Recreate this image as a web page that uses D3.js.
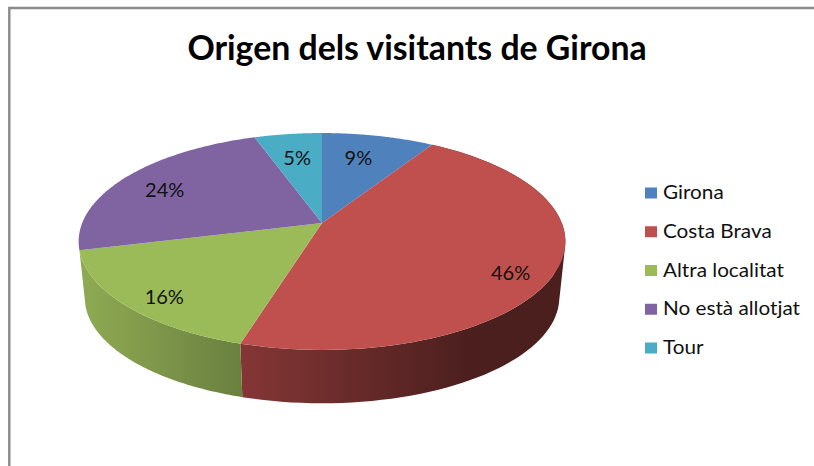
<!DOCTYPE html>
<html><head><meta charset="utf-8">
<script src="https://cdn.jsdelivr.net/npm/d3@7"></script>
<style>html,body{margin:0;padding:0;background:#fff}svg{display:block}text{font-family:Lato,sans-serif;fill:#111}</style>
</head><body><svg id="c" width="814" height="466"></svg>
<script>
const title = "Origen dels visitants de Girona";
const categories = ["Girona","Costa Brava","Altra localitat","No està allotjat","Tour"];
const values = [8.8,45.8,16.4,23.7,5.3];
const colors = ["#4f81bd","#c0504d","#9bbb59","#8064a2","#4bacc6"];
const labelRadius = [0.71,0.85,0.86,0.77,0.70];
const labelTurn = [-2,7,-3,-2.5,0];
const wallShade = {1:["#843635","#4b1f1e"],2:["#8fab53","#6b8040"]};

const svg = d3.select("#c");
const W=814,H=466, cx=322, cy=223, Rx=239.8, Ry=105.3, k=0.1705;
const sx=d3.scaleLinear().domain([-1,1]).range([cx-Rx,cx+Rx]);
const sy=d3.scaleLinear().domain([-1,1]).range([cy+Ry,cy-Ry]);
function proj(a,r,shrink=1,dy=0){
  const x=r*Math.sin(a),y=r*Math.cos(a),w=1+k*y;
  return [cx+(sx(x/w)-cx)*shrink,(sy(y/w)-cy)*shrink+cy+dy];
}
const total=d3.sum(values);
const pie=d3.pie().sort(null).value(d=>d)(values);
const fmt=d=>d3.format(".0f")(d/total*100)+"%";

svg.append("path").attr("d",d3.line()([[W,8],[9.3,8],[9.3,H]])).attr("fill","none").attr("stroke","#8a8a8a").attr("stroke-width",2.4);

const defs=svg.append("defs");
const line=d3.line();
const N=80;
const arcPts=(a0,a1,sh,dy)=>d3.range(0,N+1).map(i=>proj(a0+(a1-a0)*i/N,1,sh,dy));
const shrink=0.975, drop=56.5;
pie.forEach((p,i)=>{
  if(!wallShade[i])return;
  const top=arcPts(p.startAngle,p.endAngle,1,0);
  const low=arcPts(p.startAngle,p.endAngle,shrink,drop);
  const xs=d3.extent(top,d=>d[0]);
  const [c0,c1]=wallShade[i];
  const g=defs.append("linearGradient").attr("id","w"+i).attr("gradientUnits","userSpaceOnUse");
  const span=i===1?[xs[0],xs[0]+230]:xs;
  g.attr("x1",span[0]).attr("x2",span[1]).attr("y1",0).attr("y2",0);
  g.append("stop").attr("offset",0).attr("stop-color",c0);
  g.append("stop").attr("offset",1).attr("stop-color",c1);
  // Sweep quads between the rims, all wound the same way so the fill never cancels.
  const d=d3.range(0,N).map(j=>{
    const q=[top[j],top[j+1],low[j+1],low[j]];
    if(d3.polygonArea(q)<0) q.reverse();
    return line(q)+"Z";
  }).join("");
  svg.append("path").attr("d",d).attr("fill",`url(#w${i})`);
});
pie.forEach((p,i)=>{
  const pts=[proj(0,0)].concat(arcPts(p.startAngle,p.endAngle,1,0));
  svg.append("path").attr("d",line(pts)+"Z").attr("fill",colors[i]);
});
pie.forEach((p,i)=>{
  const a=(p.startAngle+p.endAngle)/2+labelTurn[i]*Math.PI/180;
  const [x,y]=proj(a,labelRadius[i]);
  svg.append("text").attr("x",x).attr("y",y).attr("dy","0.35em").attr("text-anchor","middle")
    .attr("font-size",20).text(fmt(values[i]));
});
svg.append("text").attr("x",417).attr("y",60).attr("text-anchor","middle").attr("font-size",33.8).attr("font-weight",700)
  .style("fill","#000").text(title);
const ly=d3.scalePoint().domain(categories).range([193,348]);
categories.forEach((c,i)=>{
  svg.append("rect").attr("x",645).attr("y",ly(c)-5.5).attr("width",12).attr("height",11).attr("fill",colors[i]);
  svg.append("text").attr("transform",`translate(663,${ly(c)+6}) scale(1.12,1)`).attr("font-size",18.5).text(c);
});
</script></body></html>
